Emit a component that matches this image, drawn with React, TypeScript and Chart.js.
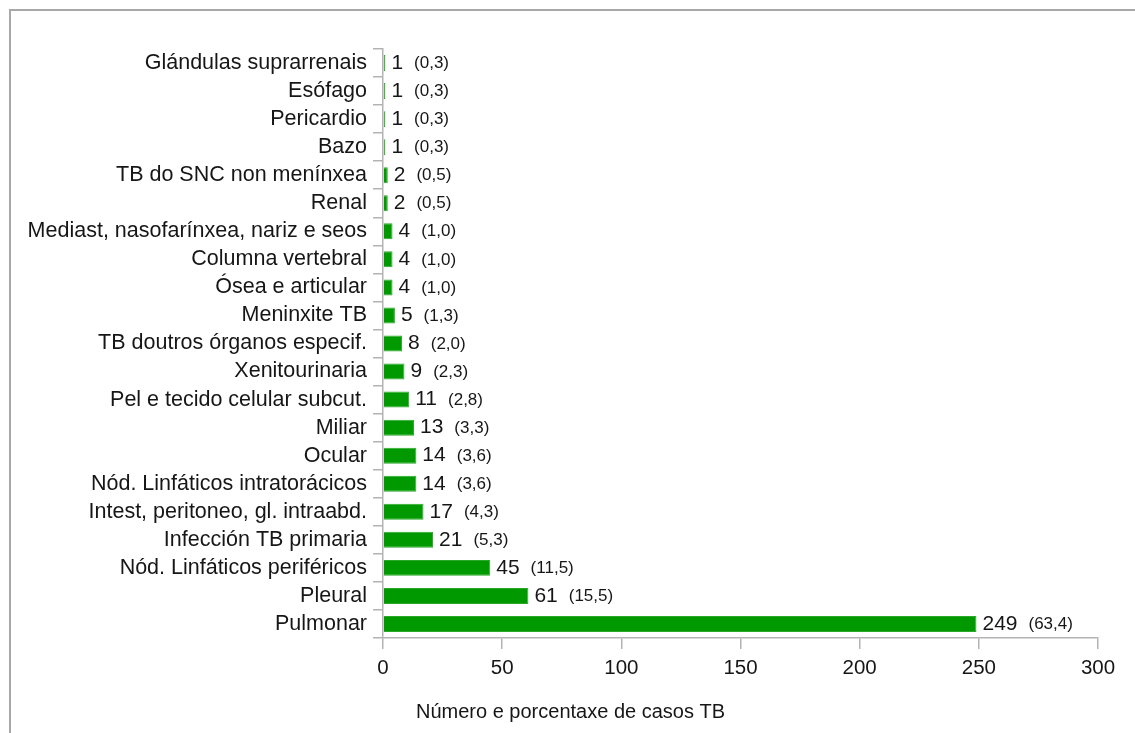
import React, { useEffect, useRef } from "react";
import { Chart, registerables } from "chart.js";

Chart.register(...registerables);

const categories = [
  "Glándulas suprarrenais",
  "Esófago",
  "Pericardio",
  "Bazo",
  "TB do SNC non menínxea",
  "Renal",
  "Mediast, nasofarínxea, nariz e seos",
  "Columna vertebral",
  "Ósea e articular",
  "Meninxite TB",
  "TB doutros órganos especif.",
  "Xenitourinaria",
  "Pel e tecido celular subcut.",
  "Miliar",
  "Ocular",
  "Nód. Linfáticos intratorácicos",
  "Intest, peritoneo, gl. intraabd.",
  "Infección TB primaria",
  "Nód. Linfáticos periféricos",
  "Pleural",
  "Pulmonar",
];

const caseCounts = [1, 1, 1, 1, 2, 2, 4, 4, 4, 5, 8, 9, 11, 13, 14, 14, 17, 21, 45, 61, 249];

const percentLabels = [
  "(0,3)", "(0,3)", "(0,3)", "(0,3)", "(0,5)", "(0,5)", "(1,0)", "(1,0)", "(1,0)", "(1,3)",
  "(2,0)", "(2,3)", "(2,8)", "(3,3)", "(3,6)", "(3,6)", "(4,3)", "(5,3)", "(11,5)", "(15,5)", "(63,4)",
];

const xAxisTitle = "Número e porcentaxe de casos TB";

const FONT = "'Liberation Sans', Arial, sans-serif";
const TEXT = "#161616";
const AXIS = "#b3b3b3";

const labelPlugin = {
  id: "valueLabels",
  afterDatasetsDraw(chart: any) {
    const ctx = chart.ctx;
    const meta = chart.getDatasetMeta(0);
    ctx.save();
    ctx.fillStyle = TEXT;
    ctx.textBaseline = "middle";
    ctx.textAlign = "left";
    meta.data.forEach((bar: any, i: number) => {
      const x = bar.x + 6;
      const y = bar.y;
      ctx.font = `21px ${FONT}`;
      const v = String(caseCounts[i]);
      ctx.fillText(v, x, y);
      const w = ctx.measureText(v).width;
      ctx.font = `17px ${FONT}`;
      ctx.fillText(percentLabels[i], x + w + 11, y + 0.5);
    });
    ctx.restore();
  },
  afterDraw(chart: any) {
    const ctx = chart.ctx;
    const left = chart.chartArea.left;
    ctx.save();
    ctx.fillStyle = TEXT;
    ctx.font = `20px ${FONT}`;
    ctx.textBaseline = "middle";
    ctx.textAlign = "left";
    ctx.fillText(xAxisTitle, left + 33, 712);
    ctx.restore();
  },
};

export default function App() {
  const canvasRef = useRef<HTMLCanvasElement | null>(null);

  useEffect(() => {
    if (!canvasRef.current) return;
    const chart = new Chart(canvasRef.current, {
      type: "bar",
      data: {
        labels: categories,
        datasets: [
          {
            data: caseCounts,
            backgroundColor: "#009a00",
            borderColor: "#2aa82a",
            borderWidth: 1,
            categoryPercentage: 1,
            barPercentage: 0.57,
          },
        ],
      },
      plugins: [labelPlugin],
      options: {
        indexAxis: "y",
        responsive: false,
        animation: false,
        layout: { padding: { left: 0, top: 49, right: 37, bottom: 0 } },
        plugins: {
          legend: { display: false },
          tooltip: { enabled: false },
          title: { display: false },
        },
        scales: {
          x: {
            type: "linear",
            min: 0,
            max: 300,
            ticks: {
              stepSize: 50,
              color: TEXT,
              font: { family: FONT, size: 20.5 },
              padding: 7,
              maxRotation: 0,
            },
            grid: {
              drawOnChartArea: false,
              drawTicks: true,
              tickLength: 11,
              tickColor: AXIS,
              lineWidth: 1.5,
            },
            border: { display: true, color: AXIS, width: 1.5 },
            afterFit(scale: any) {
              scale.height = 95;
            },
          },
          y: {
            type: "category",
            ticks: {
              color: TEXT,
              font: { family: FONT, size: 21.5 },
              padding: 6,
              autoSkip: false,
            },
            grid: {
              offset: true,
              drawOnChartArea: false,
              drawTicks: true,
              tickLength: 10,
              tickColor: AXIS,
              lineWidth: 1.5,
            },
            border: { display: true, color: AXIS, width: 1.5 },
            afterFit(scale: any) {
              scale.width = 383;
            },
          },
        },
      },
    } as any);
    return () => chart.destroy();
  }, []);

  return (
    <>
      <div
        style={{
          position: "fixed",
          left: 9,
          top: 9,
          right: 0,
          bottom: 0,
          borderTop: "2px solid #a8a8a8",
          borderLeft: "2px solid #a8a8a8",
          background: "#fff",
        }}
      />
      <div style={{ position: "fixed", left: 0, top: 0, width: 1135, height: 733 }}>
        <canvas ref={canvasRef} width={1135} height={733} style={{ width: 1135, height: 733, display: "block" }} />
      </div>
    </>
  );
}
